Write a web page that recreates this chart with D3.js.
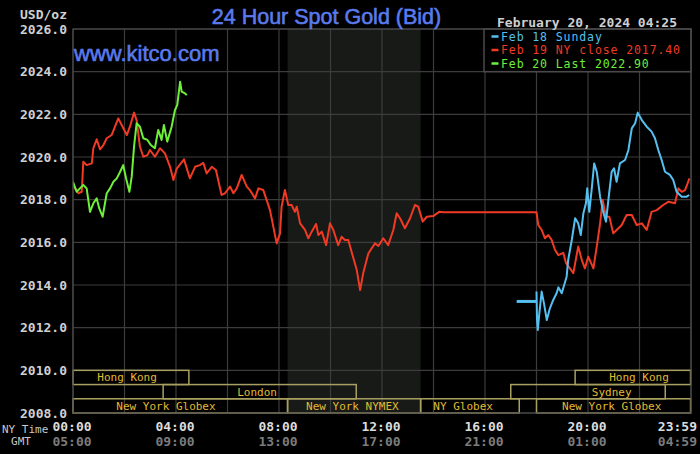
<!DOCTYPE html>
<html>
<head>
<meta charset="utf-8">
<script src="https://cdn.jsdelivr.net/npm/d3@7"></script>
<style>
  html, body { margin: 0; padding: 0; background: #000; }
  svg { display: block; }
</style>
</head>
<body>
<svg></svg>
<script>
// values, times in NY hours
const redHours = [0, 0.21, 0.34, 0.40, 0.53, 0.73, 0.79, 0.92, 1.05, 1.18, 1.31, 1.50, 1.63, 1.76, 1.89, 2.09, 2.21, 2.37, 2.47, 2.60,
  2.73, 2.89, 2.99, 3.18, 3.38, 3.57, 3.77, 3.90, 4.03, 4.31, 4.54, 4.74, 4.93, 5.06, 5.19, 5.39, 5.55, 5.77, 5.90, 6.10,
  6.23, 6.36, 6.55, 6.75, 6.87, 7.07, 7.20, 7.39, 7.52, 7.65, 7.91, 8.04, 8.10, 8.23, 8.36, 8.49, 8.62, 8.69, 8.82, 9.01,
  9.14, 9.27, 9.44, 9.53, 9.66, 9.83, 9.98, 10.11, 10.30, 10.43, 10.56, 10.69, 10.89, 11.02, 11.15, 11.27, 11.47, 11.60, 11.73, 11.86,
  12.05, 12.24, 12.44, 12.57, 12.70, 12.89, 13.09, 13.28, 13.41, 13.58, 13.74, 13.99, 14.22, 14.40, 18.00,
  18.07, 18.20, 18.33, 18.46, 18.59, 18.72, 18.85, 19.04, 19.15, 19.30, 19.43, 19.62, 19.76, 19.88, 20.01, 20.21, 20.34, 20.47, 20.57, 20.70,
  20.83, 20.98, 21.18, 21.31, 21.50, 21.70, 21.89, 22.09, 22.28, 22.47, 22.67, 22.92, 23.12, 23.38, 23.51, 23.64, 23.77, 23.94]
const redPrices = [2018.69, 2018.30, 2018.37, 2019.78, 2019.62, 2019.70, 2020.41, 2020.83, 2020.36, 2020.56, 2020.88, 2021.03, 2021.42, 2021.81, 2021.50, 2021.03, 2021.42, 2022.08, 2021.73, 2020.48,
  2020.01, 2020.09, 2020.33, 2020.01, 2020.41, 2020.17, 2019.54, 2018.92, 2019.46, 2019.89, 2019.00, 2019.54, 2019.62, 2019.73, 2019.23, 2019.54, 2019.39, 2018.22, 2018.30, 2018.61,
  2018.30, 2018.53, 2019.16, 2018.61, 2018.45, 2018.06, 2018.53, 2018.45, 2017.98, 2017.51, 2015.95, 2016.42, 2017.67, 2018.45, 2017.75, 2017.75, 2017.43, 2017.67, 2016.89, 2016.58,
  2016.19, 2016.50, 2016.86, 2016.34, 2016.50, 2015.87, 2016.89, 2016.58, 2015.87, 2016.26, 2016.11, 2016.11, 2015.25, 2014.70, 2013.76, 2014.55, 2015.48, 2015.72, 2015.95, 2015.83,
  2016.19, 2015.87, 2016.58, 2017.36, 2017.13, 2016.66, 2017.13, 2017.75, 2017.67, 2016.97, 2017.20, 2017.23, 2017.43, 2017.41, 2017.41,
  2016.81, 2016.58, 2016.19, 2016.34, 2016.11, 2015.64, 2015.40, 2015.51, 2015.01, 2014.78, 2014.55, 2015.80, 2015.17, 2014.78, 2015.33, 2014.78, 2015.80, 2016.89, 2017.98, 2017.20,
  2017.20, 2016.42, 2016.66, 2016.81, 2017.28, 2017.28, 2016.81, 2016.89, 2016.58, 2017.43, 2017.51, 2017.75, 2017.90, 2017.83, 2018.53, 2018.37, 2018.45, 2019.00]

const blueHours = [18.00, 18.02, 18.05, 18.11, 18.20, 18.29, 18.40, 18.52, 18.65, 18.78, 18.85, 18.98, 19.17, 19.23, 19.37, 19.50, 19.62, 19.72, 19.82, 19.92,
  19.97, 20.05, 20.14, 20.24, 20.34, 20.47, 20.59, 20.70, 20.79, 20.92, 21.01, 21.11, 21.24, 21.44, 21.57, 21.70, 21.83, 21.93, 22.09, 22.28,
  22.47, 22.60, 22.73, 22.86, 22.99, 23.18, 23.31, 23.44, 23.64, 23.83, 23.93]
const bluePrices = [2013.70, 2012.40, 2011.89, 2012.67, 2013.69, 2013.14, 2012.36, 2012.91, 2013.30, 2013.61, 2013.89, 2013.61, 2014.39, 2015.17, 2016.11, 2017.13, 2016.89, 2016.34, 2017.36, 2017.83,
  2018.53, 2017.43, 2018.45, 2019.70, 2019.31, 2018.14, 2017.43, 2016.97, 2017.98, 2019.31, 2019.47, 2018.84, 2019.70, 2019.86, 2020.33, 2021.34, 2021.58, 2022.08, 2021.73, 2021.42,
  2021.19, 2020.88, 2020.33, 2019.86, 2019.31, 2019.16, 2018.92, 2018.37, 2018.14, 2018.14, 2018.22]
const bluePrevClose = { from: 17.23, to: 18.0, price: 2013.23 }

const greenHours = [0, 0.14, 0.27, 0.40, 0.53, 0.66, 0.79, 0.92, 1.02, 1.15, 1.31, 1.44, 1.57, 1.70, 1.83, 1.95, 2.06, 2.19, 2.28, 2.37,
  2.47, 2.60, 2.73, 2.89, 3.02, 3.18, 3.31, 3.44, 3.53, 3.66, 3.83, 3.96, 4.05, 4.16, 4.22, 4.35, 4.42]
const greenPrices = [2018.84, 2018.37, 2018.53, 2018.69, 2018.53, 2017.43, 2017.83, 2018.06, 2017.59, 2017.20, 2018.30, 2018.53, 2018.84, 2019.00, 2019.31, 2019.62, 2019.00, 2018.37, 2019.08, 2020.48,
  2021.58, 2021.42, 2020.88, 2020.80, 2020.56, 2020.41, 2021.27, 2020.80, 2021.50, 2020.72, 2021.42, 2022.20, 2022.44, 2023.53, 2023.06, 2022.98, 2022.90]

const legendLabels = ['Feb 18 Sunday', 'Feb 19 NY close 2017.40', 'Feb 20 Last 2022.90']
const yTicks = [2008, 2010, 2012, 2014, 2016, 2018, 2020, 2022, 2024, 2026]
const xTickHours = [0, 4, 8, 12, 16, 20, 23.983]
const xTickNY = ['00:00', '04:00', '08:00', '12:00', '16:00', '20:00', '23:59']
const xTickGMT = ['05:00', '09:00', '13:00', '17:00', '21:00', '01:00', '04:59']
const comexHours = [8.333, 13.5]

const sessionNames = ['Hong Kong', 'Hong Kong', 'London', 'Sydney', 'New York Globex', 'New York NYMEX', 'NY Globex', 'New York Globex']
const sessionRow = [0, 0, 1, 1, 2, 2, 2, 2]
const sessionStart = [0, 19.5, 3.5, 17.0, 0, 8.333, 13.5, 18.0]
const sessionEnd = [4.5, 23.983, 11.0, 23.0, 8.333, 13.5, 17.33, 23.983]
const sessionLabelAt = [2.1, 21.98, 7.15, 20.92, 3.61, 10.85, 15.15, 20.92]

const width = 700
const height = 454
const colors = { red: '#f03a24', blue: '#55c0f0', green: '#6ef038' }

const svg = d3.select('svg')
    .attr('width', width)
    .attr('height', height)
    .style('background', '#000')

const x = d3.scaleLinear().domain([0, 24]).range([73, 691])
const y = d3.scaleLinear().domain([2008, 2026]).range([413, 29])

const mono = '"DejaVu Sans Mono", "Liberation Mono", monospace'

svg.append('defs').append('clipPath')
    .attr('id', 'plot-clip')
    .append('rect')
    .attr('x', x(0)).attr('y', y(2026))
    .attr('width', x(24) - x(0)).attr('height', y(2008) - y(2026))

// comex hours shading
svg.append('rect')
    .attr('x', x(comexHours[0]))
    .attr('y', y(2026))
    .attr('width', x(comexHours[1]) - x(comexHours[0]))
    .attr('height', y(2008) - y(2026))
    .attr('fill', '#171a17')

// grid
const grid = svg.append('g').attr('stroke', '#3c3c3c').attr('stroke-width', 1.2)
grid.selectAll('.h')
    .data(yTicks)
    .enter()
    .append('line')
    .attr('x1', x(0)).attr('x2', x(24))
    .attr('y1', d => y(d)).attr('y2', d => y(d))
grid.selectAll('.v')
    .data(d3.range(0, 26, 2))
    .enter()
    .append('line')
    .attr('x1', d => x(Math.min(d, 24))).attr('x2', d => x(Math.min(d, 24)))
    .attr('y1', y(2026)).attr('y2', y(2008))

// market sessions
const rowH = (y(2008) - y(2010)) / 3
const sessions = sessionNames.map((name, i) => ({
    name, row: sessionRow[i], start: sessionStart[i], end: sessionEnd[i], label: sessionLabelAt[i]
}))
const sess = svg.append('g')
sess.selectAll('rect')
    .data(sessions)
    .enter()
    .append('rect')
    .attr('x', d => x(d.start))
    .attr('y', d => y(2010) + d.row * rowH)
    .attr('width', d => x(d.end) - x(d.start))
    .attr('height', rowH)
    .attr('fill', 'none')
    .attr('stroke', '#a8a060')
    .attr('stroke-width', 1.5)
sess.selectAll('text')
    .data(sessions)
    .enter()
    .append('text')
    .attr('x', d => x(d.label))
    .attr('y', d => y(2010) + (d.row + 0.5) * rowH)
    .attr('dy', '0.36em')
    .attr('text-anchor', 'middle')
    .attr('font-family', mono)
    .attr('font-size', 11)
    .attr('fill', '#e2ba34')
    .text(d => d.name)

// price lines
const line = d3.line()
    .x(d => x(d[0]))
    .y(d => y(d[1]))

const lines = svg.append('g').attr('clip-path', 'url(#plot-clip)')
const series = [
    { hours: redHours, prices: redPrices, color: colors.red },
    { hours: blueHours, prices: bluePrices, color: colors.blue },
    { hours: greenHours, prices: greenPrices, color: colors.green }
]
lines.selectAll('path')
    .data(series)
    .enter()
    .append('path')
    .attr('d', d => line(d3.zip(d.hours, d.prices)))
    .attr('fill', 'none')
    .attr('stroke', d => d.color)
    .attr('stroke-width', 2)
    .attr('stroke-linejoin', 'round')

lines.append('line')
    .attr('x1', x(bluePrevClose.from)).attr('x2', x(bluePrevClose.to))
    .attr('y1', y(bluePrevClose.price)).attr('y2', y(bluePrevClose.price))
    .attr('stroke', colors.blue)
    .attr('stroke-width', 3)

// legend box
const legend = svg.append('g')
legend.append('rect')
    .attr('x', 484).attr('y', y(2026))
    .attr('width', x(24) - 484).attr('height', y(2024) - y(2026))
    .attr('fill', '#000')
    .attr('stroke', '#4a4a4a')
    .attr('stroke-width', 1.5)
const legendColors = [colors.blue, colors.red, colors.green]
const items = legend.selectAll('g')
    .data(legendLabels)
    .enter()
    .append('g')
    .attr('transform', (d, i) => `translate(0, ${36.5 + i * 13.5})`)
items.append('line')
    .attr('x1', 491.5).attr('x2', 498.5)
    .attr('stroke', (d, i) => legendColors[i])
    .attr('stroke-width', 2.5)
// smaller glyphs + letter spacing keeps the original width without rows touching
items.append('text')
    .attr('x', 501)
    .attr('dy', '0.36em')
    .attr('font-family', mono)
    .attr('font-size', 11.5)
    .attr('letter-spacing', 0.9)
    .attr('fill', (d, i) => legendColors[i])
    .text(d => d)

// plot frame
svg.append('rect')
    .attr('x', x(0)).attr('y', y(2026))
    .attr('width', x(24) - x(0)).attr('height', y(2008) - y(2026))
    .attr('fill', 'none')
    .attr('stroke', '#4a4a4a')
    .attr('stroke-width', 1.2)

// y axis labels
svg.append('g').selectAll('text')
    .data(yTicks)
    .enter()
    .append('text')
    .attr('x', 67)
    .attr('y', d => y(d))
    .attr('dy', '0.36em')
    .attr('text-anchor', 'end')
    .attr('font-family', mono)
    .attr('font-size', 13)
    .attr('font-weight', 'bold')
    .attr('fill', '#d0d0d0')
    .text(d => d.toFixed(1))

svg.append('text')
    .attr('x', 67).attr('y', 14)
    .attr('dy', '0.36em')
    .attr('text-anchor', 'end')
    .attr('font-family', mono)
    .attr('font-size', 13)
    .attr('font-weight', 'bold')
    .attr('fill', '#d0d0d0')
    .text('USD/oz')

// x axis labels
const xLabels = svg.append('g')
    .attr('font-family', mono)
    .attr('font-size', 13)
    .attr('font-weight', 'bold')
xLabels.selectAll('.ny')
    .data(xTickHours)
    .enter()
    .append('text')
    .attr('x', (d, i) => i === xTickHours.length - 1 ? 697 : x(d) - 1)
    .attr('y', 426)
    .attr('dy', '0.36em')
    .attr('text-anchor', (d, i) => i === xTickHours.length - 1 ? 'end' : 'middle')
    .attr('fill', '#dcdcdc')
    .text((d, i) => xTickNY[i])
xLabels.selectAll('.gmt')
    .data(xTickHours)
    .enter()
    .append('text')
    .attr('x', (d, i) => i === xTickHours.length - 1 ? 697 : x(d) - 1)
    .attr('y', 441)
    .attr('dy', '0.36em')
    .attr('text-anchor', (d, i) => i === xTickHours.length - 1 ? 'end' : 'middle')
    .attr('fill', '#7c7c7c')
    .text((d, i) => xTickGMT[i])

svg.append('text')
    .attr('x', 2).attr('y', 429)
    .attr('dy', '0.36em')
    .attr('font-family', mono)
    .attr('font-size', 11)
    .attr('fill', '#c8c8c8')
    .text('NY Time')
svg.append('text')
    .attr('x', 21).attr('y', 441)
    .attr('dy', '0.36em')
    .attr('text-anchor', 'middle')
    .attr('font-family', mono)
    .attr('font-size', 11)
    .attr('fill', '#c8c8c8')
    .text('GMT')

// titles, stroked a little to get the heavier look of the original
svg.append('text')
    .attr('x', 326.5).attr('y', 23.5)
    .attr('text-anchor', 'middle')
    .attr('font-family', '"Liberation Sans", Arial, sans-serif')
    .attr('font-size', 21.5)
    .attr('fill', '#5a7aec')
    .attr('stroke', '#5a7aec')
    .attr('stroke-width', 0.6)
    .text('24 Hour Spot Gold (Bid)')

svg.append('text')
    .attr('x', 74).attr('y', 61)
    .attr('font-family', '"Liberation Sans", Arial, sans-serif')
    .attr('font-size', 22)
    .attr('fill', '#5a7aec')
    .attr('stroke', '#5a7aec')
    .attr('stroke-width', 0.6)
    .text('www.kitco.com')

svg.append('text')
    .attr('x', 677).attr('y', 22)
    .attr('dy', '0.36em')
    .attr('text-anchor', 'end')
    .attr('font-family', mono)
    .attr('font-size', 13)
    .attr('font-weight', 'bold')
    .attr('fill', '#cfcfcf')
    .text('February 20, 2024 04:25')
</script>
</body>
</html>
